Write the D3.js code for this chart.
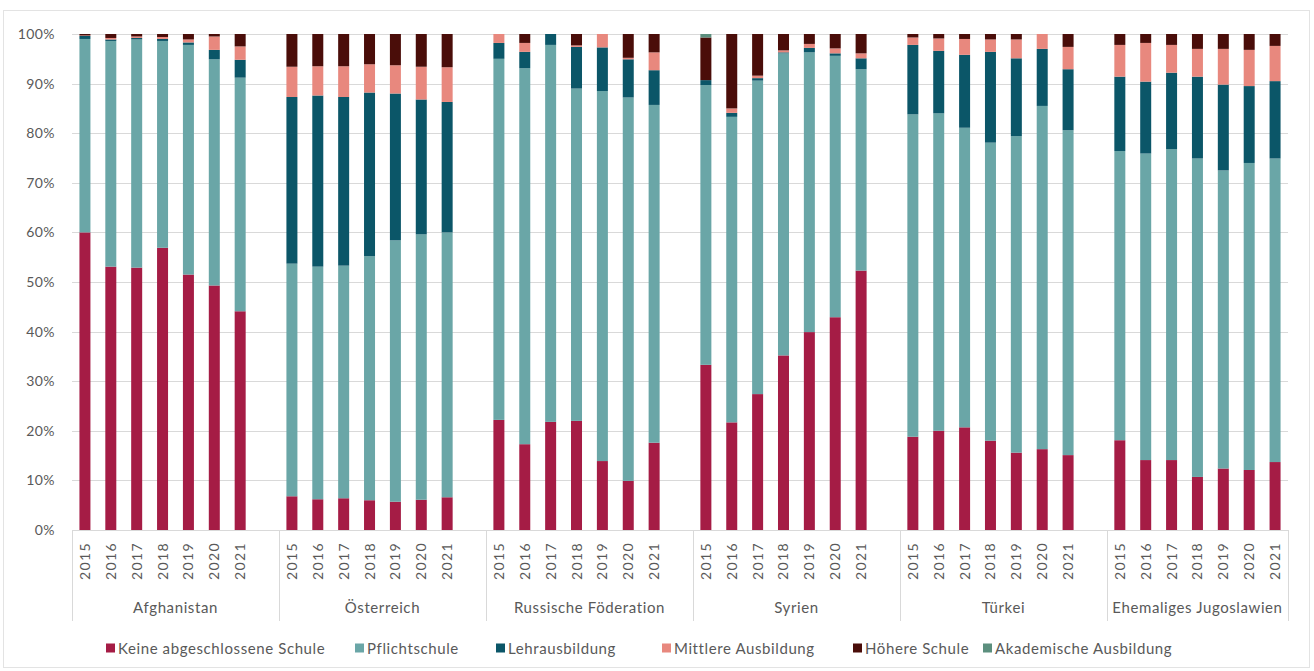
<!DOCTYPE html>
<html>
<head>
<meta charset="utf-8">
<script src="https://cdn.jsdelivr.net/npm/d3@7"></script>
<style>
  html, body { margin: 0; padding: 0; background: #fff; }
  svg { display: block; font-family: Lato, "Open Sans", sans-serif; }
</style>
</head>
<body>
<svg id="chart" width="1314" height="671"></svg>
<script>
const groups = ["Afghanistan", "Österreich", "Russische Föderation", "Syrien", "Türkei", "Ehemaliges Jugoslawien"];
const years = ["2015", "2016", "2017", "2018", "2019", "2020", "2021"];
const seriesNames = ["Keine abgeschlossene Schule", "Pflichtschule", "Lehrausbildung", "Mittlere Ausbildung", "Höhere Schule", "Akademische Ausbildung"];
const seriesColors = ["#a51c45", "#6aa6a7", "#0b5668", "#e8887e", "#4a0d09", "#5c8f7e"];
const yTicks = [0, 10, 20, 30, 40, 50, 60, 70, 80, 90, 100];

// values per group, 7 years each (percent)
const keine = [
  [60.0, 53.1, 52.9, 56.9, 51.5, 49.3, 44.1],
  [6.8, 6.2, 6.4, 6.0, 5.7, 6.1, 6.6],
  [22.2, 17.3, 21.8, 22.0, 13.9, 9.9, 17.6],
  [33.3, 21.7, 27.4, 35.2, 39.9, 42.9, 52.3],
  [18.8, 20.0, 20.7, 18.0, 15.6, 16.3, 15.1],
  [18.1, 14.1, 14.1, 10.7, 12.4, 12.1, 13.7]
];
const pflicht = [
  [39.0, 45.5, 46.0, 41.7, 46.3, 45.6, 47.1],
  [46.9, 46.9, 46.9, 49.2, 52.7, 53.5, 53.4],
  [72.8, 75.8, 76.0, 67.0, 74.6, 77.3, 68.1],
  [56.4, 61.6, 63.2, 60.9, 56.4, 52.7, 40.6],
  [65.0, 64.0, 60.4, 60.1, 63.8, 69.2, 65.5],
  [58.3, 61.8, 62.7, 64.2, 60.1, 61.9, 61.2]
];
const lehr = [
  [0.6, 0.3, 0.3, 0.4, 0.5, 1.9, 3.6],
  [33.6, 34.5, 34.0, 33.0, 29.6, 27.2, 26.3],
  [3.2, 3.3, 2.2, 8.4, 8.8, 7.7, 7.0],
  [1.0, 0.8, 0.5, 0.2, 0.9, 0.5, 2.2],
  [14.0, 12.6, 14.7, 18.3, 15.7, 11.5, 12.3],
  [15.0, 14.5, 15.4, 16.5, 17.3, 15.5, 15.6]
];
const mittlere = [
  [0.1, 0.3, 0.3, 0.4, 0.6, 2.7, 2.7],
  [6.1, 5.9, 6.2, 5.7, 5.7, 6.6, 7.0],
  [1.8, 1.8, 0.0, 0.3, 2.7, 0.3, 3.6],
  [0.0, 0.9, 0.5, 0.4, 0.8, 1.0, 1.0],
  [1.5, 2.5, 3.2, 2.5, 3.8, 3.0, 4.5],
  [6.4, 7.8, 5.6, 5.6, 7.2, 7.3, 7.1]
];
const hoehere = [
  [0.3, 0.8, 0.5, 0.6, 1.1, 0.5, 2.5],
  [6.6, 6.5, 6.5, 6.1, 6.3, 6.6, 6.7],
  [0.0, 1.8, 0.0, 2.3, 0.0, 4.8, 3.7],
  [8.6, 15.0, 8.4, 3.3, 2.0, 2.9, 3.9],
  [0.7, 0.9, 1.0, 1.1, 1.1, 0.0, 2.6],
  [2.2, 1.8, 2.2, 3.0, 3.0, 3.2, 2.4]
];
const akademisch = [
  [0, 0, 0, 0, 0, 0, 0],
  [0, 0, 0, 0, 0, 0, 0],
  [0, 0, 0, 0, 0, 0, 0],
  [0.7, 0, 0, 0, 0, 0, 0],
  [0, 0, 0, 0, 0, 0, 0],
  [0, 0, 0, 0, 0, 0, 0]
];

const seriesData = [keine, pflicht, lehr, mittlere, hoehere, akademisch];

// build rows
const rows = [];
groups.forEach((g, gi) => {
  years.forEach((yr, yi) => {
    const row = { key: gi + "_" + yi, group: g, year: yr, gi: gi };
    seriesNames.forEach((s, si) => { row[s] = seriesData[si][gi][yi]; });
    rows.push(row);
  });
});

// slot domain: each group 7 years + one blank (except the last)
const slots = [];
groups.forEach((g, gi) => {
  years.forEach((yr, yi) => slots.push(gi + "_" + yi));
  if (gi < groups.length - 1) slots.push("blank_" + gi);
});

const svg = d3.select("#chart");
const plotLeft = 72, plotRight = 1288, plotTop = 34, plotBottom = 530;
const textColor = "#595959";

const x = d3.scaleBand().domain(slots).range([plotLeft, plotRight]).paddingInner(0.575).paddingOuter(0.2875);
const xStep = x.step();
const y = d3.scaleLinear().domain([0, 100]).range([plotBottom, plotTop]);
const color = d3.scaleOrdinal().domain(seriesNames).range(seriesColors);

// frame
svg.append("rect").attr("x", 3.5).attr("y", 10.5).attr("width", 1306).attr("height", 657)
  .attr("fill", "none").attr("stroke", "#e3e3e3").attr("stroke-width", 1);

// gridlines
svg.append("g").selectAll("line").data(yTicks.filter(t => t > 0)).join("line")
  .attr("x1", plotLeft).attr("x2", plotRight)
  .attr("y1", d => Math.round(y(d)) + 0.5).attr("y2", d => Math.round(y(d)) + 0.5)
  .attr("stroke", "#d9d9d9").attr("stroke-width", 1);

// y axis labels
const yAxis = d3.axisLeft(y).tickValues(yTicks).tickFormat(d => d + "%").tickSize(0).tickPadding(0);
const yg = svg.append("g").attr("transform", `translate(${plotLeft - 17},0)`).call(yAxis);
yg.select(".domain").remove();
yg.selectAll("text").attr("fill", textColor).style("font-size", "14px")
  .style("letter-spacing", "0.4px")
  .style("font-family", "Lato, 'Open Sans', sans-serif");

// stacked bars
const stack = d3.stack().keys(seriesNames);
const stacked = stack(rows);
svg.append("g").selectAll("g").data(stacked).join("g")
  .attr("fill", d => color(d.key))
  .selectAll("rect").data(d => d).join("rect")
  .attr("x", d => x(d.data.key))
  .attr("width", x.bandwidth())
  .attr("y", d => y(d[1]))
  .attr("height", d => Math.max(0, y(d[0]) - y(d[1])));

// x baseline
svg.append("line").attr("x1", plotLeft).attr("x2", plotRight)
  .attr("y1", plotBottom + 0.5).attr("y2", plotBottom + 0.5)
  .attr("stroke", "#d9d9d9");

// year labels
svg.append("g").selectAll("text").data(rows).join("text")
  .attr("transform", d => `translate(${x(d.key) + x.bandwidth() / 2 + 5},542) rotate(-90)`)
  .attr("text-anchor", "end")
  .attr("fill", textColor)
  .style("font-size", "14px")
  .style("letter-spacing", "1.4px")
  .text(d => d.year);

// group separators
const groupStart = gi => x(gi + "_0") - (xStep - x.bandwidth()) / 2;
const groupEnd = gi => gi < groups.length - 1 ? groupStart(gi) + xStep * 8 : plotRight;
const seps = [plotLeft];
groups.forEach((g, gi) => seps.push(groupEnd(gi)));
svg.append("g").selectAll("line").data(seps).join("line")
  .attr("x1", d => Math.round(d) + 0.5).attr("x2", d => Math.round(d) + 0.5)
  .attr("y1", plotBottom).attr("y2", 621)
  .attr("stroke", "#d9d9d9");

// group labels
svg.append("g").selectAll("text").data(groups).join("text")
  .attr("x", (d, gi) => (groupStart(gi) + groupEnd(gi)) / 2)
  .attr("y", 613)
  .attr("text-anchor", "middle")
  .attr("fill", textColor)
  .style("font-size", "15px")
  .style("letter-spacing", "0.6px")
  .text(d => d);

// legend
const legendX = [106, 355, 496, 662, 853, 983];
const lg = svg.append("g").selectAll("g").data(seriesNames).join("g")
  .attr("transform", (d, i) => `translate(${legendX[i]},648)`);
lg.append("rect").attr("x", 0).attr("y", -4.5).attr("width", 9).attr("height", 9)
  .attr("fill", d => color(d));
lg.append("text").attr("x", 12).attr("y", 5.5)
  .attr("fill", textColor).style("font-size", "15px")
  .style("letter-spacing", "0.6px")
  .text(d => d);
</script>
</body>
</html>
